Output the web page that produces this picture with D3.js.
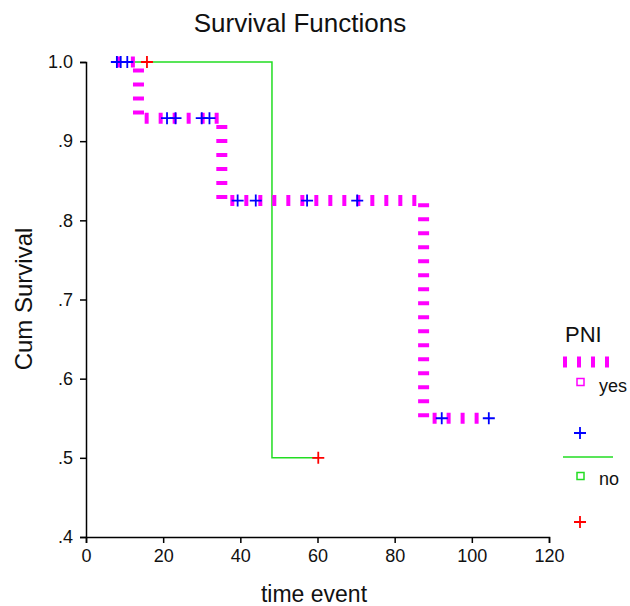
<!DOCTYPE html>
<html>
<head>
<meta charset="utf-8">
<script src="https://cdn.jsdelivr.net/npm/d3@7"></script>
<style>
  body { margin: 0; background: #fff; }
  text { font-family: "Liberation Sans", Arial, sans-serif; fill: #111; }
</style>
</head>
<body>
<div id="chart"></div>
<script>
// Kaplan-Meier steps
var yesTime = [8, 13.6, 35.2, 87.5, 104.4];
var yesSurv = [1.0, 0.929, 0.825, 0.550, 0.550];
var yesCensorTime = [8, 9, 10.7, 21, 23.2, 30, 32, 39.3, 44, 57.3, 70.3, 92.2, 104.4];
var yesCensorSurv = [1.0, 1.0, 1.0, 0.929, 0.929, 0.929, 0.929, 0.825, 0.825, 0.825, 0.825, 0.550, 0.550];

var noTime = [12, 48.2, 60.2];
var noSurv = [1.0, 0.5, 0.5];
var noCensorTime = [15.8, 60.2];
var noCensorSurv = [1.0, 0.5];

var xTicks = [0, 20, 40, 60, 80, 100, 120];
var yTicks = [0.4, 0.5, 0.6, 0.7, 0.8, 0.9, 1.0];
var yTickLabels = [".4", ".5", ".6", ".7", ".8", ".9", "1.0"];

var width = 630, height = 606;

var svg = d3.select("#chart").append("svg")
    .attr("width", width)
    .attr("height", height);

var x = d3.scaleLinear().domain([0, 120]).range([86, 549]);
var y = d3.scaleLinear().domain([0.4, 1.0]).range([537, 62]);

// axes
svg.append("g")
    .attr("transform", "translate(0," + y(0.4) + ")")
    .call(d3.axisBottom(x).tickValues(xTicks).tickSizeOuter(0).tickSize(6).tickPadding(6))
    .call(function(g) {
        g.select(".domain").attr("stroke", "#000").attr("stroke-width", 1.5);
        g.selectAll(".tick line").attr("stroke", "#000").attr("stroke-width", 1.5);
        g.selectAll("text").style("font-size", "18px").attr("fill", "#111");
    });

svg.append("g")
    .attr("transform", "translate(" + x(0) + ",0)")
    .call(d3.axisLeft(y).tickValues(yTicks).tickSizeOuter(0).tickSize(6).tickPadding(7)
        .tickFormat(function(d, i) { return yTickLabels[i]; }))
    .call(function(g) {
        g.select(".domain").attr("stroke", "#000").attr("stroke-width", 1.5);
        g.selectAll(".tick line").attr("stroke", "#000").attr("stroke-width", 1.5);
        g.selectAll("text").style("font-size", "18px").attr("fill", "#111");
    });

var line = d3.line()
    .x(function(d) { return x(d[0]); })
    .y(function(d) { return y(d[1]); })
    .curve(d3.curveStepAfter);

// "no" curve
svg.append("path")
    .datum(d3.zip(noTime, noSurv))
    .attr("d", line)
    .attr("fill", "none")
    .attr("stroke", "#22dd22")
    .attr("stroke-width", 1.5);

// "yes" curve, thick dashed
svg.append("path")
    .datum(d3.zip(yesTime, yesSurv))
    .attr("d", line)
    .attr("fill", "none")
    .attr("stroke", "#ff00ff")
    .attr("stroke-width", 11)
    .attr("stroke-dasharray", "4,10");

function cross(g, cx, cy, color) {
    g.append("path")
        .attr("d", "M" + (cx - 6) + "," + cy + "H" + (cx + 6) + "M" + cx + "," + (cy - 6) + "V" + (cy + 6))
        .attr("stroke", color)
        .attr("stroke-width", 1.8)
        .attr("fill", "none");
}

var marks = svg.append("g");
d3.zip(yesCensorTime, yesCensorSurv).forEach(function(d) {
    cross(marks, x(d[0]), y(d[1]), "#0000ff");
});
d3.zip(noCensorTime, noCensorSurv).forEach(function(d) {
    cross(marks, x(d[0]), y(d[1]), "#ff0000");
});

// title and labels
svg.append("text")
    .attr("x", 300).attr("y", 32)
    .attr("text-anchor", "middle")
    .style("font-size", "26px")
    .text("Survival Functions");

svg.append("text")
    .attr("x", 314).attr("y", 602)
    .attr("text-anchor", "middle")
    .style("font-size", "23px")
    .text("time event");

svg.append("text")
    .attr("transform", "translate(32,299) rotate(-90)")
    .attr("text-anchor", "middle")
    .style("font-size", "24px")
    .text("Cum Survival");

// legend
var lg = svg.append("g");
lg.append("text").attr("x", 565).attr("y", 342).style("font-size", "22px").text("PNI");
lg.append("line").attr("x1", 563).attr("x2", 613).attr("y1", 362).attr("y2", 362)
    .attr("stroke", "#ff00ff").attr("stroke-width", 11).attr("stroke-dasharray", "4,10");
lg.append("rect").attr("x", 577).attr("y", 378.5).attr("width", 7).attr("height", 7)
    .attr("fill", "none").attr("stroke", "#ff00ff").attr("stroke-width", 1.5);
lg.append("text").attr("x", 599).attr("y", 392).style("font-size", "18px").text("yes");
cross(lg, 580, 433, "#0000ff");
lg.append("line").attr("x1", 563).attr("x2", 613).attr("y1", 457).attr("y2", 457)
    .attr("stroke", "#22dd22").attr("stroke-width", 1.5);
lg.append("rect").attr("x", 577).attr("y", 472.5).attr("width", 7).attr("height", 7)
    .attr("fill", "none").attr("stroke", "#22dd22").attr("stroke-width", 1.5);
lg.append("text").attr("x", 599).attr("y", 485).style("font-size", "18px").text("no");
cross(lg, 580, 522, "#ff0000");
</script>
</body>
</html>
